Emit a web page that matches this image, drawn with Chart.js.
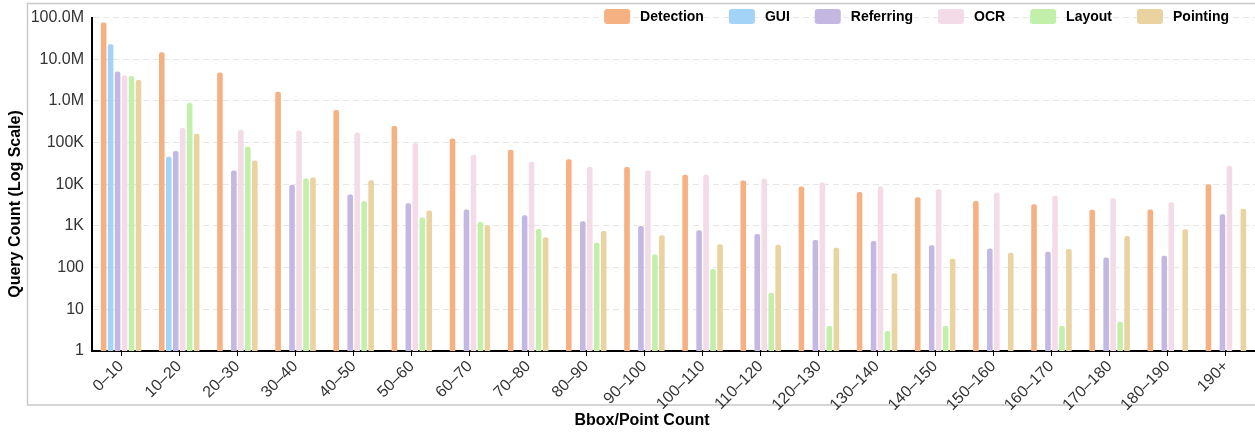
<!DOCTYPE html>
<html>
<head>
<meta charset="utf-8">
<script src="https://cdn.jsdelivr.net/npm/chart.js@4"></script>
<style>
  html, body { margin: 0; padding: 0; background: #ffffff; }
  #wrap { width: 1255px; height: 435px; position: relative; }
</style>
</head>
<body>
<div id="wrap"><canvas id="c" width="1255" height="435"></canvas></div>
<script>
const categories = ['0–10','10–20','20–30','30–40','40–50','50–60','60–70','70–80','80–90','90–100',
  '100–110','110–120','120–130','130–140','140–150','150–160','160–170','170–180','180–190','190+'];

const detection = [76e6, 14.7e6, 4.8e6, 1.66e6, 610e3, 250e3, 125e3, 67e3, 40e3, 26e3,
  17e3, 12.4e3, 8.8e3, 6.5e3, 4.9e3, 4.0e3, 3.3e3, 2.45e3, 2.5e3, 10e3];
const gui = [23e6, 46e3, null, null, null, null, null, null, null, null,
  null, null, null, null, null, null, null, null, null, null];
const referring = [5.1e6, 63e3, 21.5e3, 9.8e3, 5.7e3, 3.5e3, 2.5e3, 1.8e3, 1.3e3, 1.0e3,
  790, 645, 458, 433, 345, 288, 240, 175, 193, 1.9e3];
const ocr = [4.1e6, 225e3, 204e3, 196e3, 172e3, 96e3, 51e3, 35e3, 26e3, 21.5e3,
  17e3, 13.8e3, 11e3, 8.9e3, 7.6e3, 6.3e3, 5.3e3, 4.6e3, 3.7e3, 27.7e3];
const layoutData = [3.95e6, 890e3, 80e3, 13.7e3, 3.9e3, 1.6e3, 1.25e3, 850, 395, 207,
  93, 25, 4, 3, 4, null, 4, 5, null, null];
const pointing = [3.2e6, 163e3, 37e3, 14.6e3, 12.5e3, 2.35e3, 1.05e3, 535, 760, 600,
  365, 355, 300, 73, 163, 228, 280, 575, 830, 2.6e3];

const seriesNames = ['Detection', 'GUI', 'Referring', 'OCR', 'Layout', 'Pointing'];
const yTickValues = [1, 10, 100, 1e3, 1e4, 1e5, 1e6, 1e7, 1e8];
const yTickLabels = ['1', '10', '100', '1K', '10K', '100K', '1.0M', '10.0M', '100.0M'];
const xTitle = 'Bbox/Point Count';
const yTitle = 'Query Count (Log Scale)';

const colors = ['#F5B182', '#A3D3F6', '#C4B8E2', '#F3DCE8', '#C2F0AA', '#E9D4A1'];
const seriesData = [detection, gui, referring, ocr, layoutData, pointing];

const TITLE_FONT = 'bold 16px "Liberation Sans", Arial, sans-serif';
const LEGEND_FONT = 'bold 14px "Liberation Sans", Arial, sans-serif';

const decorPlugin = {
  id: 'decor',
  beforeDraw(chart) {
    const ctx = chart.ctx;
    ctx.save();
    ctx.strokeStyle = '#c9c9c9';
    ctx.lineWidth = 1.5;
    ctx.strokeRect(27.5, 3.5, 1240, 401.5);
    ctx.restore();
  },
  afterDraw(chart) {
    const ctx = chart.ctx;
    ctx.save();
    ctx.fillStyle = '#000';
    ctx.font = TITLE_FONT;
    ctx.textAlign = 'center';
    ctx.textBaseline = 'middle';
    ctx.fillText(xTitle, 642, 421);
    ctx.translate(16, 204);
    ctx.rotate(-Math.PI / 2);
    ctx.fillText(yTitle, 0, 0);
    ctx.restore();

    ctx.save();
    ctx.font = LEGEND_FONT;
    const boxW = 26, boxH = 15, gap = 10, itemGap = 25;
    const ds = chart.data.datasets;
    const widths = ds.map(d => ctx.measureText(d.label).width);
    let total = 0;
    widths.forEach((w, i) => { total += boxW + gap + w + (i < ds.length - 1 ? itemGap : 0); });
    let x = 1229 - total;
    const cy = 16.5;
    ds.forEach((d, i) => {
      ctx.fillStyle = d.backgroundColor;
      ctx.beginPath();
      if (ctx.roundRect) ctx.roundRect(x, cy - boxH / 2, boxW, boxH, 3);
      else ctx.rect(x, cy - boxH / 2, boxW, boxH);
      ctx.fill();
      ctx.fillStyle = '#000';
      ctx.textAlign = 'left';
      ctx.textBaseline = 'middle';
      ctx.fillText(d.label, x + boxW + gap, cy + 0.5);
      x += boxW + gap + widths[i] + itemGap;
    });
    ctx.restore();
  }
};

new Chart(document.getElementById('c'), {
  type: 'bar',
  data: {
    labels: categories,
    datasets: seriesNames.map((name, i) => ({
      label: name,
      data: seriesData[i],
      backgroundColor: colors[i],
      borderWidth: 0,
      borderRadius: { topLeft: 2, topRight: 2, bottomLeft: 0, bottomRight: 0 },
      borderSkipped: 'bottom',
      categoryPercentage: 0.72,
      barPercentage: 0.8
    }))
  },
  options: {
    responsive: false,
    animation: false,
    layout: { padding: { left: 0, right: 0, top: 14, bottom: 0 } },
    plugins: {
      legend: { display: false },
      tooltip: { enabled: false }
    },
    scales: {
      x: {
        type: 'category',
        grid: { display: true, offset: false, drawOnChartArea: false, drawTicks: true, tickLength: 5, color: '#000', lineWidth: 1 },
        border: { display: true, color: '#000', width: 2 },
        ticks: {
          color: '#333',
          font: { family: '"Liberation Sans", Arial, sans-serif', size: 16 },
          minRotation: 45,
          maxRotation: 45,
          padding: 1,
          autoSkip: false
        },
        afterFit(scale) { scale.height = 84; }
      },
      y: {
        type: 'logarithmic',
        min: 1,
        max: 1e8,
        grid: { color: '#e6e6e6', lineWidth: 1, drawTicks: false },
        border: { display: true, color: '#000', width: 2, dash: [6, 4] },
        ticks: {
          color: '#333',
          font: { family: '"Liberation Sans", Arial, sans-serif', size: 16 },
          padding: 8,
          callback(value) {
            const idx = yTickValues.indexOf(value);
            return idx >= 0 ? yTickLabels[idx] : '';
          }
        },
        afterBuildTicks(scale) {
          scale.ticks = yTickValues.map(v => ({ value: v }));
        },
        afterFit(scale) { scale.width = 92; }
      }
    }
  },
  plugins: [decorPlugin]
});
</script>
</body>
</html>
